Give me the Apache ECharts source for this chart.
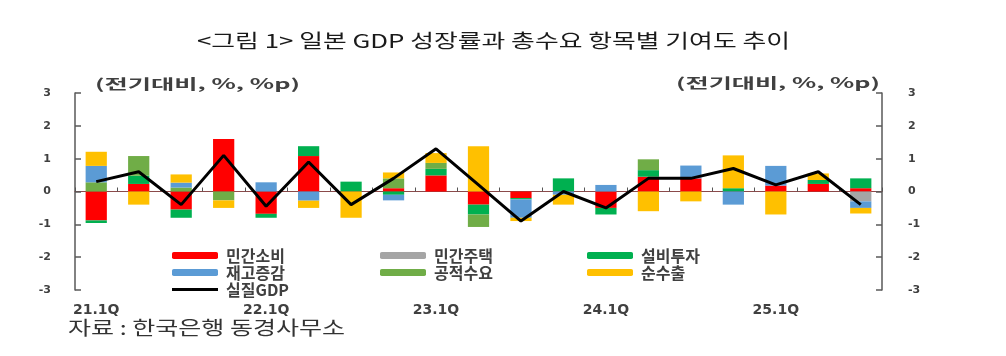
<!DOCTYPE html>
<html>
<head>
<meta charset="utf-8">
<script src="https://cdn.jsdelivr.net/npm/echarts@6/dist/echarts.min.js"></script>
<style>
html,body{margin:0;padding:0;background:#fff;}
#chart{width:1006px;height:356px;}
</style>
</head>
<body>
<div id="chart"></div>
<script>
// ---- data ----
const categories = ['21.1Q','21.2Q','21.3Q','21.4Q','22.1Q','22.2Q','22.3Q','22.4Q','23.1Q','23.2Q','23.3Q','23.4Q','24.1Q','24.2Q','24.3Q','24.4Q','25.1Q','25.2Q','25.3Q'];
const privateConsumption = [-0.88, 0.23, -0.55, 1.6, -0.68, 1.08, 0, 0.1, 0.49, -0.4, -0.2, 0, -0.5, 0.45, 0.4, 0, 0.18, 0.23, 0.1];
const privateHousing     = [0, 0, 0, 0, 0, 0, 0, 0, 0, 0, 0, 0, 0, 0, 0, 0, 0, 0, -0.3];
const equipmentInvest    = [-0.08, 0.25, -0.25, 0, -0.12, 0.3, 0.3, -0.1, 0.2, -0.3, -0.04, 0.4, -0.2, 0.2, 0, 0.1, 0, 0.12, 0.3];
const publicDemand       = [0.28, 0.6, 0.12, -0.27, 0, 0, 0, 0.3, 0.18, -0.38, 0, 0, 0, 0.33, 0, 0, 0, 0, 0];
const inventoryChange    = [0.5, 0, 0.15, 0, 0.28, -0.28, 0, -0.17, 0, 0, -0.56, -0.1, 0.2, 0, 0.39, -0.4, 0.6, 0, -0.2];
const netExports         = [0.43, -0.4, 0.25, -0.23, 0, -0.22, -0.8, 0.18, 0.3, 1.38, -0.1, -0.3, 0, -0.6, -0.3, 1.0, -0.7, 0.2, -0.17];
const realGDP            = [0.3, 0.6, -0.4, 1.1, -0.45, 0.9, -0.4, 0.4, 1.3, 0.2, -0.9, 0.0, -0.5, 0.4, 0.4, 0.7, 0.2, 0.6, -0.4];
const yTicks = {min: -3, max: 3, interval: 1};

const titleText = '<그림 1> 일본 GDP 성장률과 총수요 항목별 기여도 추이';
const unitText = '(전기대비, %, %p)';
const sourceText = '자료 : 한국은행 동경사무소';

// ---- helpers ----
const mctx = document.createElement('canvas').getContext('2d');
function stretchedText(text, font, left, right, cy, fill) {
  mctx.font = font;
  const w = mctx.measureText(text).width;
  return {
    type: 'text', x: left, y: cy, scaleX: (right - left) / w,
    style: {text: text, font: font, fill: fill, textAlign: 'left', textVerticalAlign: 'middle'},
    silent: true
  };
}

const chart = echarts.init(document.getElementById('chart'), null, {renderer: 'canvas'});
const axisColor = '#595959';
const labelFont = {fontFamily: 'DejaVu Sans', fontWeight: 'bold', fontSize: 11, color: '#404040'};
const legendText = {fontFamily: '"Noto Sans CJK KR"', fontWeight: 'bold', fontSize: 16, color: '#404040', lineHeight: 17, padding: [0, 0, 0, 3]};
const lineIcon = 'path://M0,0H46V3H0Z';

function barSeries(name, data, color) {
  return {name: name, type: 'bar', stack: 'total', data: data, barWidth: '50%',
          itemStyle: {color: color}, emphasis: {disabled: true}};
}

const option = {
  animation: false,
  backgroundColor: '#fff',
  grid: {left: 75, right: 124, top: 93, bottom: 66, containLabel: false, outerBoundsMode: 'none'},
  legend: [
    {left: 167, top: 242, orient: 'vertical', itemWidth: 46, itemHeight: 7, itemGap: 0, symbolKeepAspect: true,
     data: ['민간소비', '재고증감', {name: '실질GDP', icon: lineIcon}], textStyle: legendText, selectedMode: false},
    {left: 375, top: 242, orient: 'vertical', itemWidth: 46, itemHeight: 7, itemGap: 0,
     data: ['민간주택', '공적수요'], textStyle: legendText, selectedMode: false},
    {left: 582, top: 242, orient: 'vertical', itemWidth: 46, itemHeight: 7, itemGap: 0,
     data: ['설비투자', '순수출'], textStyle: legendText, selectedMode: false}
  ],
  xAxis: [
    {type: 'category', data: categories,
     axisLine: {onZero: true, lineStyle: {color: '#8b4a4a', width: 1.2}},
     axisTick: {show: true, inside: true, length: 4, interval: 0, lineStyle: {color: '#555'}},
     axisLabel: {show: false}, splitLine: {show: false}},
    {type: 'category', data: categories, position: 'bottom', offset: 0,
     axisLine: {show: false}, axisTick: {show: false}, splitLine: {show: false},
     axisLabel: {interval: 3, margin: 13, fontFamily: 'DejaVu Sans', fontWeight: 'bold', fontSize: 14, color: '#404040'}}
  ],
  yAxis: [
    {type: 'value', position: 'left', min: yTicks.min, max: yTicks.max, interval: yTicks.interval,
     axisLine: {show: true, onZero: false, lineStyle: {color: axisColor, width: 1.5}},
     axisTick: {show: true, inside: true, length: 6, lineStyle: {color: axisColor, width: 1.5}},
     axisLabel: Object.assign({margin: 24}, labelFont), splitLine: {show: false}},
    {type: 'value', position: 'right', min: yTicks.min, max: yTicks.max, interval: yTicks.interval,
     axisLine: {show: true, onZero: false, lineStyle: {color: axisColor, width: 1.5}},
     axisTick: {show: true, inside: true, length: 6, lineStyle: {color: axisColor, width: 1.5}},
     axisLabel: Object.assign({margin: 26}, labelFont), splitLine: {show: false}}
  ],
  series: [
    barSeries('민간소비', privateConsumption, '#ff0000'),
    barSeries('민간주택', privateHousing, '#a5a5a5'),
    barSeries('설비투자', equipmentInvest, '#00b050'),
    barSeries('공적수요', publicDemand, '#70ad47'),
    barSeries('재고증감', inventoryChange, '#5b9bd5'),
    barSeries('순수출', netExports, '#ffc000'),
    {name: '실질GDP', type: 'line', data: realGDP, symbol: 'none', z: 10,
     lineStyle: {color: '#000', width: 3}, itemStyle: {color: '#000'}, emphasis: {disabled: true}}
  ],
  graphic: [
    stretchedText(titleText, '19px "Noto Sans CJK KR"', 197, 790, 41, '#1a1a1a'),
    stretchedText(unitText, 'bold 14px "Noto Sans CJK KR"', 95, 300, 84, '#404040'),
    stretchedText(unitText, 'bold 14px "Noto Sans CJK KR"', 676, 880, 83, '#404040'),
    stretchedText(sourceText, '19px "Noto Sans CJK KR"', 68, 345, 328, '#333')
  ]
};
chart.setOption(option);
</script>
</body>
</html>
